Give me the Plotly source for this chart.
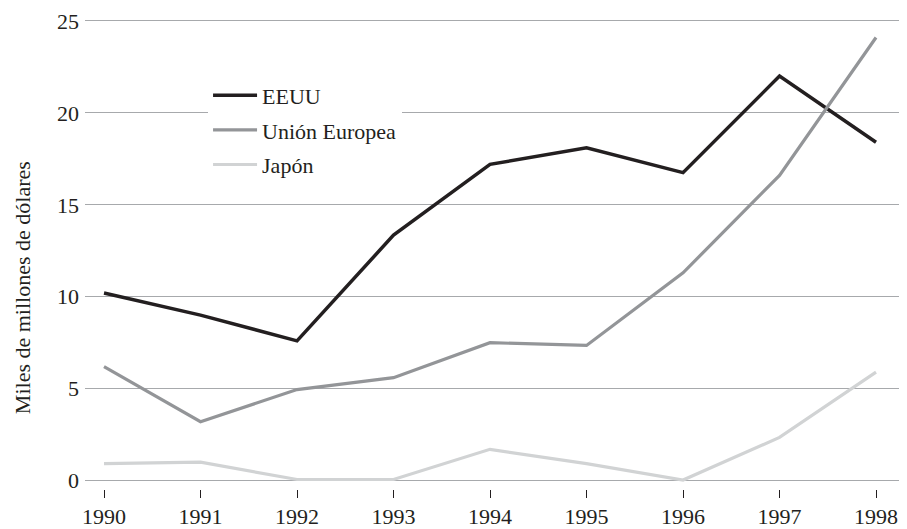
import plotly.graph_objects as go

years = [1990, 1991, 1992, 1993, 1994, 1995, 1996, 1997, 1998]
eeuu = [10.2, 9.0, 7.6, 13.35, 17.2, 18.1, 16.75, 22.0, 18.4]
ue = [6.2, 3.2, 4.95, 5.6, 7.5, 7.35, 11.3, 16.6, 24.1]
japon = [0.92, 1.0, 0.06, 0.06, 1.7, 0.92, 0.03, 2.35, 5.9]

series_names = ["EEUU", "Unión Europea", "Japón"]
ytick_vals = [0, 5, 10, 15, 20, 25]

FONT = "Liberation Serif, Times New Roman, serif"
TXT = "#231f20"

fig = go.Figure()
fig.add_trace(go.Scatter(x=years, y=eeuu, mode="lines", name=series_names[0],
                         line=dict(color="#231f20", width=3.5), legendgroup="a"))
fig.add_trace(go.Scatter(x=years, y=ue, mode="lines", name=series_names[1],
                         line=dict(color="#939598", width=3.2), legendgroup="b"))
fig.add_trace(go.Scatter(x=years, y=japon, mode="lines", name=series_names[2],
                         line=dict(color="#d1d3d4", width=3.2), legendgroup="c"))

fig.update_layout(
    width=899, height=521,
    margin=dict(l=77, r=0, t=10, b=35),
    paper_bgcolor="white", plot_bgcolor="white",
    font=dict(family=FONT, size=22, color=TXT),
    showlegend=True,
    legend=dict(x=0.1497, y=0.88, xanchor="left", yanchor="top",
                bgcolor="white", borderwidth=0, tracegroupgap=3,
                font=dict(family=FONT, size=22, color=TXT),
                itemwidth=44),
    xaxis=dict(range=[1989.803, 1998.321], tickvals=years,
               ticktext=[str(y) for y in years],
               showgrid=False, zeroline=False, showline=False,
               ticks="outside", ticklen=8, tickwidth=1, tickcolor="#231f20",
               tickfont=dict(family=FONT, size=22, color=TXT)),
    yaxis=dict(range=[-0.457, 25.16], tickvals=ytick_vals,
               showgrid=True, gridcolor="#a7a9ac", gridwidth=1.2,
               zeroline=False, showline=False, ticks="",
               ticklabelstandoff=5,
               tickfont=dict(family=FONT, size=22, color=TXT)),
    annotations=[dict(text="Miles de millones de dólares", xref="paper", yref="paper",
                      x=-0.0766, y=0.4265, xanchor="center", yanchor="middle",
                      textangle=-90, showarrow=False,
                      font=dict(family=FONT, size=22, color=TXT))],
)

fig.write_html("out.html")
